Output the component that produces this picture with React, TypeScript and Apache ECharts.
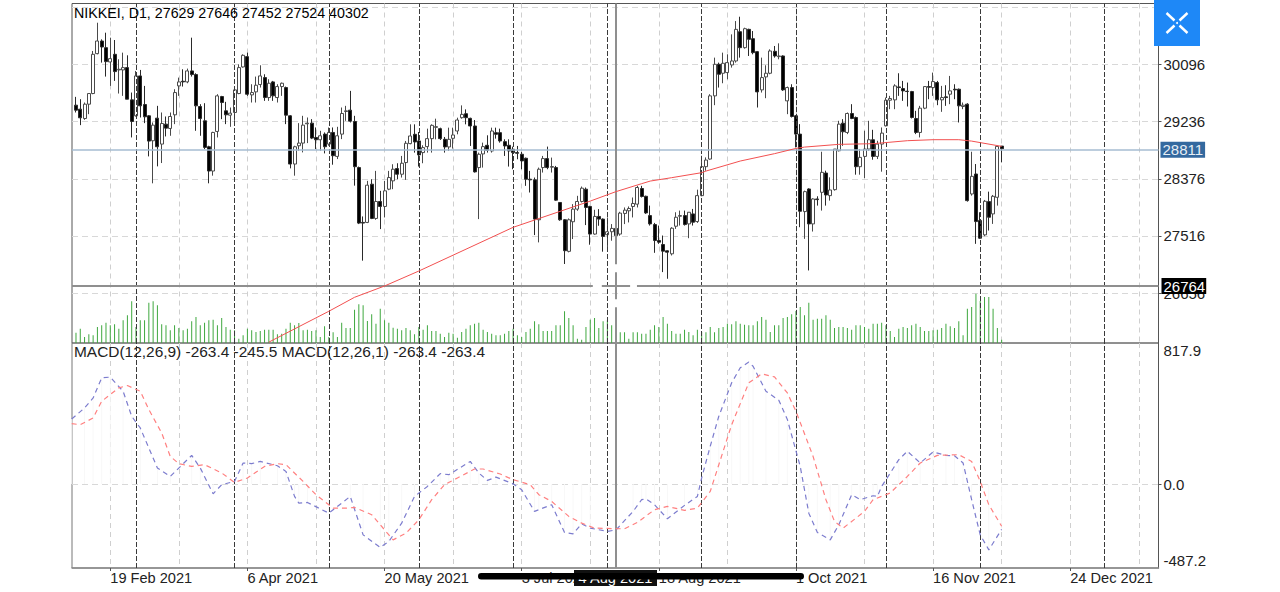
import React, { useEffect, useRef } from "react";
import * as echarts from "echarts";

const titleText = "NIKKEI, D1, 27629 27646 27452 27524 40302";
const macdText = "MACD(12,26,9) -263.4 -245.5 MACD(12,26,1) -263.4 -263.4";

const priceTicks = [26656, 27516, 28376, 29236, 30096, 30956];
const priceLabels = [26656, 27516, 28376, 29236, 30096];
const macdLabels = [-487.2, 0, 817.9];
const macdTicks = [0];
const lastPrice = 28811;
const crossPrice = 26764;
const crossIndex = 126;
const crossDate = "4 Aug 2021";

const gridIndexes = [8, 24, 40, 56, 72, 88, 104, 120, 136, 152, 168, 184, 200, 216, 232, 248];
const dateLabelIndexes = [8, 40, 72, 104, 136, 168, 200, 232];
const dateLabels = ["19 Feb 2021", "6 Apr 2021", "20 May 2021", "3 Jul 2021", "18 Aug 2021", "1 Oct 2021", "16 Nov 2021", "24 Dec 2021"];
const monthIndexes = [14, 37, 59, 80, 102, 124, 146, 168, 189, 211, 240];

// open, close, low, high
const candles = [
[29483,29408,29373,29608],[29423,29293,29183,29573],[29283,29498,29263,29523],[29498,29658,29348,29658],
[29658,30248,29648,30298],[30258,30448,30248,30723],[30448,30358,30123,30473],[30348,30138,29913,30573],[30133,30183,29773,30498],
[30248,29988,29848,30463],[30013,30023,29658,30173],[30013,30048,29623,30273],[30048,29573,29573,30233],[29563,29238,28998,29673],
[29323,29923,29313,29998],[29923,29473,29298,30013],[29493,29308,29213,29773],[29323,28943,28713,29333],[28948,29183,28308,29223],
[29288,28858,28563,29473],[28898,29208,28613,29373],[29198,29138,29013,29313],[29133,29313,29023,29373],[29338,29673,29198,29723],
[29773,29833,29623,29898],[29843,29833,29763,30023],[29833,29998,29813,30033],[29998,29943,29913,30498],[29943,29473,29098,29963],
[29463,29283,29023,29498],[29248,28848,28823,29513],[28858,28493,28308,28873],[28493,29073,28423,29083],[29088,29623,28998,29648],
[29613,29523,29273,29623],[29398,29338,29198,29533],[29333,29363,29158,29448],[29373,29713,29248,29748],[29658,30048,29648,30098],
[30058,30233,30048,30248],[30213,29648,29623,30273],[29638,29673,29523,29798],[29683,29783,29523,29913],[29793,29923,29748,30083],
[29898,29598,29548,29948],[29598,29813,29548,29873],[29833,29623,29548,29848],[29598,29763,29523,29798],[29763,29813,29623,29823],
[29748,29333,29198,29763],[29323,28598,28533,29333],[28598,28858,28423,28873],[28873,28913,28798,29213],[28913,29183,28773,29323],
[29203,29213,28913,29298],[29213,28988,28973,29273],[28998,28963,28823,29148],[28963,29023,28798,29098],[29048,28858,28758,29073],
[28898,29073,28873,29148],[29073,28723,28588,29148],[28713,29023,28673,29158],[29048,29358,28973,29448],[29388,29398,29248,29473],
[29408,29243,29223,29698],[29238,28558,28273,29323],[28545,27710,27695,28560],[27720,27710,27145,27810],[27720,28280,27710,28345],
[28295,27780,27770,28370],[27780,28035,27760,28495],[28035,27960,27620,28195],[27960,28195,27795,28345],[28220,28395,28205,28495],
[28345,28520,28220,28595],[28530,28445,28370,28610],[28445,28610,28395,28720],[28620,28910,28360,28945],[28905,29020,28895,29195],
[29045,28930,28770,29195],[28945,28735,28560,29080],[28770,28845,28610,28880],[28860,28980,28770,29130],[28980,29180,28770,29195],
[29150,29160,28970,29280],[29130,28980,28960,29145],[28970,28855,28770,29005],[28855,28970,28795,29145],[28985,29035,28830,29145],
[29095,29260,29045,29295],[29295,29345,29280,29480],[29355,29295,29195,29420],[29285,29170,28870,29295],[29170,28480,28470,29260],
[28545,28745,27770,28770],[28750,28860,28545,28920],[28880,28805,28770,29030],[28795,29095,28770,29145],[29070,29045,28980,29145],
[29070,28945,28920,29130],[28935,28870,28720,28970],[28880,28795,28560,28970],[28820,28770,28520,28860],[28770,28760,28670,28870],
[28745,28645,28520,28780],[28685,28370,28270,28695],[28370,28360,28170,28495],[28360,27770,27530,28395],[27760,28520,27420,28545],
[28545,28680,28470,28720],[28680,28545,28520,28860],[28550,28560,28470,28695],[28545,28055,28045,28570],[28020,27760,27745,28020],
[27760,27295,27095,27770],[27285,27760,27270,27780],[27730,27920,27470,27995],[27920,28035,27895,28120],[28035,28235,28020,28260],
[28220,27945,27680,28245],[27960,27545,27385,27970],[27545,27810,27535,27910],[27810,27770,27670,27920],[27770,27510,27280,27780],
[27535,27580,27345,27795],[27580,27630,27445,27695],[27629,27524,27452,27646],[27545,27860,27520,27880],[27855,27905,27695,27945],
[27895,27930,27720,27960],[27960,28005,27795,28095],[27995,28245,27945,28270],[28230,28110,28095,28270],[28113,27863,27848,28123],
[27823,27698,27673,27973],[27688,27448,27263,27713],[27448,27423,27398,27673],[27388,27288,26973,27523],[27293,27273,26873,27298],
[27248,27633,27223,27648],[27663,27798,27623,27873],[27813,27823,27673,27898],[27823,27688,27673,27898],[27698,27873,27483,27873],
[27848,27723,27673,27923],[27733,28123,27713,28213],[28123,28558,28113,28723],[28558,28658,28498,28698],[28673,29623,28663,29648],
[29623,30098,29483,30198],[30098,29948,29748,30123],[29963,30113,29813,30273],[29973,30123,29873,30248],[30088,30148,30048,30548],
[30148,30623,30123,30748],[30588,30348,30198,30813],[30348,30633,30333,30648],[30623,30473,30223,30633],[30483,30273,30248,30598],
[30288,29683,29448,30298],[29713,29898,29673,30198],[29908,29963,29588,30083],[29963,30298,29948,30323],[30293,30223,30198,30373],
[30213,30223,30173,30413],[30223,29713,29698,30233],[29548,29748,29348,29763],[29748,29313,29298,29798],[29323,29048,28848,29333],
[29048,27888,27648,29198],[27883,28183,27473,28198],[28223,27698,26998,28233],[27698,28073,27583,28083],[28073,28063,27973,28113],
[28173,28473,27898,28783],[28463,28133,27973,28498],[28123,28208,28048,28398],[28213,28823,28198,28823],[28798,29198,28788,29248],
[29213,29083,28873,29273],[29073,29358,29048,29373],[29358,29283,29273,29498],[29298,28558,28438,29313],[28558,28698,28438,28823],
[28713,28823,28388,29098],[28823,28963,28798,29248],[28963,28713,28663,29113],[28713,28898,28673,28948],[28898,29063,28483,29148],
[29173,29558,29163,29598],[29558,29583,29423,29623],[29563,29773,29423,29798],[29758,29748,29623,29963],[29733,29698,29548,29848],
[29693,29688,29463,29823],[29688,29298,29283,29698],[29283,29073,29048,29398],[29073,29438,28998,29473],[29438,29763,29423,29763],
[29763,29753,29573,29848],[29748,29838,29623,29973],[29823,29563,29483,29848],[29563,29598,29383,29773],[29608,29598,29473,29783],
[29648,29698,29498,29923],[29723,29713,29573,29798],[29723,29473,29223,29733],[29463,29483,29423,29523],[29498,28048,28033,29513],
[28148,28413,28123,28783],[28448,27733,27398,28598],[27748,27483,27473,27873],[27533,28038,27513,28058],[28033,27798,27598,28183],
[27848,28113,27698,28133],[28098,28863,27973,28873],[28868,28828,28623,28868],
];

const volumes = [
23600,32700,13700,19800,17500,36500,40300,46400,40300,42600,32700,51700,63100,95000,36500,51700,51700,92000,95000,85900,
42600,40300,28900,40300,34200,28900,32700,49400,59300,40300,46400,51700,53200,40300,57000,36500,30400,28900,9900,17500,
32700,28900,25100,27400,30400,30400,30400,19800,21300,32700,46400,40300,45600,28900,30400,27400,28900,13700,38000,13700,
24300,13700,46400,34200,34200,76000,88200,85900,50200,65400,44100,78300,51700,46400,35000,32700,28900,34200,28900,19800,
36500,30400,40300,27400,27400,21300,13700,23600,21300,12200,25100,32700,40300,44100,46400,30400,25100,21300,17500,17500,
21300,27400,32700,17500,13700,25100,32700,49400,42600,27400,27400,27400,40300,40300,72200,57000,40300,9900,7600,36500,
53200,57000,34200,49400,51700,40300,40302,24300,24300,9900,24300,24300,21300,21300,30400,40300,36500,59300,44100,27400,
21300,21300,30400,25100,17500,30400,25100,24300,36500,24300,34200,36500,44100,42600,49400,44100,41800,40300,40300,49400,
59300,53200,25100,40300,40300,57000,59300,65400,73000,82100,63100,92000,53200,55500,55500,63100,53200,34200,36500,36500,
34200,30400,40300,40300,36500,32700,44100,44100,46400,40300,27400,13700,32700,36500,34200,40300,44100,36500,27400,27400,
28900,30400,34200,44100,38000,34200,49400,17500,78300,82100,112500,95800,104900,104900,78300,34200,7600,
];

const maIndexes = [45,59,65,72,80,102,107,120,126,132,134,139,146,147,155,163,168,170,178,186,194,200,206,209,216];
const maValues = [25920,26384,26594,26764,26989,27646,27756,28041,28183,28303,28342,28393,28468,28492,28643,28754,28833,28853,28894,28904,28949,28964,28964,28943,28864];

const macdIndexes = [-1,2,4,6,8,11,13,15,19,22,27,29,32,34,37,39,41,43,47,49,51,52,54,59,64,67,71,73,76,79,82,85,87,92,94,96,98,102,104,107,108,111,114,116,118,120,124,126,130,132,133,135,138,142,145,146,148,150,153,155,157,158,161,164,166,169,171,173,176,178,181,183,186,187,188,192,194,197,200,203,205,207,209,211,213,216];
const macdValues = [377,441,499,616,620,538,393,325,93,44,166,93,-57,-4,15,122,118,131,106,73,-72,-111,-107,-169,-72,-295,-368,-333,-227,-72,-14,60,54,131,64,21,40,1,-33,-159,-149,-120,-281,-289,-231,-256,-275,-266,-159,-91,-87,-120,-202,-124,-72,35,219,393,587,674,707,683,538,486,374,102,-169,-281,-324,-237,-62,-91,-68,-72,-14,141,190,122,186,166,164,122,-91,-295,-382,-263];

const signalIndexes = [-1,1,4,6,10,12,15,17,20,22,24,27,30,34,37,40,44,47,49,53,56,60,63,65,69,73,74,77,80,83,86,89,93,95,99,102,106,108,111,115,118,121,128,131,135,138,142,145,148,150,153,157,160,163,166,168,172,175,177,179,184,186,190,194,197,201,206,209,211,213,216];
const signalValues = [350,344,383,480,558,571,538,432,296,160,118,102,112,64,9,35,102,118,112,15,-62,-140,-140,-136,-178,-295,-324,-285,-208,-91,-4,35,87,87,58,25,-4,-62,-101,-188,-227,-256,-260,-223,-149,-130,-153,-140,-43,112,344,587,639,621,528,422,160,-91,-217,-256,-159,-91,-52,44,122,166,170,131,15,-120,-245];

const xMin = -0.93;
const xMax = 252.6;
const priceMin = 25907;
const priceMax = 31012;
const volumeAxisMax = 774000;
const macdMin = -487.2;
const macdMax = 817.9;
const crossGapsX = [120.6, 122.7, 129.3, 130.9];
const crossGapsPrice = [27090, 26970, 26564, 26444];

const FONT = "Liberation Sans";

export default function App() {
  const ref = useRef<HTMLDivElement>(null);
  useEffect(() => {
    document.body.style.margin = "0";
    document.body.style.background = "#fff";
    const chart = echarts.init(ref.current!, undefined, { renderer: "svg" });

    const crossStyle = { color: "#8f8f8f", width: 2, type: "solid" as const };
    const seg = (a: number[], b: number[], lineStyle: any) => [{ coord: a, lineStyle }, { coord: b }];
    const monthLines = monthIndexes.map((x) => ({
      xAxis: x,
      lineStyle: { color: "#3a3a3a", width: 1, type: [5, 2] },
    }));

    const markBase = { silent: true, symbol: "none", animation: false, label: { show: false } };

    const option: any = {
      animation: false,
      backgroundColor: "#fff",
      grid: [
        { left: 72, top: 3.5, width: 1086.5, height: 339.5, show: true, borderColor: "#555", borderWidth: 1, backgroundColor: "transparent" },
        { left: 72, top: 343, width: 1086.5, height: 225, show: true, borderColor: "#777", borderWidth: 1, backgroundColor: "transparent" },
      ],
      xAxis: [
        {
          type: "value", gridIndex: 0, min: xMin, max: xMax, position: "bottom",
          axisLine: { show: false, onZero: false }, axisLabel: { show: false },
          axisTick: { show: false, customValues: gridIndexes },
          splitLine: { show: true, lineStyle: { color: "#cfcfcf", width: 1, type: [5, 4] } },
        },
        {
          type: "value", gridIndex: 1, min: xMin, max: xMax, position: "bottom",
          axisLine: { show: true, onZero: false, lineStyle: { color: "#8a8a8a", width: 1.5 } },
          axisTick: { show: true, length: 3, customValues: dateLabelIndexes, lineStyle: { color: "#555" } },
          axisLabel: {
            show: true, customValues: dateLabelIndexes, align: "left", margin: 2, fontFamily: FONT, fontSize: 14.6, color: "#222",
            formatter: (v: number) => dateLabels[dateLabelIndexes.indexOf(v)] ?? "",
          },
          splitLine: { show: false },
        },
        {
          type: "value", gridIndex: 1, min: xMin, max: xMax, position: "top",
          axisLine: { show: false, onZero: false }, axisLabel: { show: false },
          axisTick: { show: false, customValues: gridIndexes },
          splitLine: { show: true, lineStyle: { color: "#cfcfcf", width: 1, type: [5, 4] } },
        },
      ],
      yAxis: [
        {
          type: "value", gridIndex: 0, position: "right", min: priceMin, max: priceMax, scale: true,
          axisLine: { show: true, onZero: false, lineStyle: { color: "#555" } },
          axisTick: { show: true, length: 3, customValues: priceTicks, lineStyle: { color: "#555" } },
          axisLabel: { show: true, customValues: priceLabels, margin: 5, fontFamily: FONT, fontSize: 15, color: "#222", formatter: (v: number) => String(v) },
          splitLine: { show: true, lineStyle: { color: "#d8d8d8", width: 1, type: [6, 4] } },
        },
        { type: "value", gridIndex: 0, show: false, min: 0, max: volumeAxisMax, axisLine: { onZero: false }, splitLine: { show: false } },
        {
          type: "value", gridIndex: 1, position: "right", min: macdMin, max: macdMax,
          axisLine: { show: true, onZero: false, lineStyle: { color: "#555" } },
          axisTick: { show: true, length: 3, customValues: macdTicks, lineStyle: { color: "#555" } },
          axisLabel: {
            show: true, customValues: macdLabels, margin: 5, fontFamily: FONT, fontSize: 15, color: "#222",
            verticalAlignMinLabel: "bottom", verticalAlignMaxLabel: "top",
            formatter: (v: number) => v.toFixed(1),
          },
          splitLine: { show: true, lineStyle: { color: "#d8d8d8", width: 1, type: [6, 4] } },
        },
      ],
      series: [
        {
          type: "bar", name: "Volume", xAxisIndex: 0, yAxisIndex: 1, barWidth: 1, z: 2,
          itemStyle: { color: "#3fa83f" },
          data: volumes.map((v, i) => [i, v]),
        },
        {
          type: "candlestick", name: "NIKKEI", xAxisIndex: 0, yAxisIndex: 0, barWidth: 3.5, z: 3,
          encode: { x: 0, y: [1, 2, 3, 4] },
          itemStyle: { color: "#fff", color0: "#000", borderColor: "#4a4a4a", borderColor0: "#2a2a2a", borderWidth: 1 },
          data: candles.map((r, k) => [k, r[0], r[1], r[2], r[3]]),
          markLine: {
            ...markBase,
            z: 5,
            data: [
              {
                yAxis: lastPrice,
                lineStyle: { color: "#a6bcd2", width: 1.5, type: "solid" },
                label: { show: true, position: "end", distance: 2, formatter: String(lastPrice), backgroundColor: "#34699f", color: "#e8eef5", fontFamily: FONT, fontSize: 15, padding: [1, 2, 0, 2] },
              },
              [
                { coord: [xMin, crossPrice], lineStyle: crossStyle },
                { coord: [crossGapsX[0], crossPrice] },
              ],
              seg([crossGapsX[1], crossPrice], [crossGapsX[2], crossPrice], crossStyle),
              [
                {
                  coord: [crossGapsX[3], crossPrice], lineStyle: crossStyle,
                  label: { show: true, position: "end", distance: 3, formatter: String(crossPrice), backgroundColor: "#000", color: "#fff", fontFamily: FONT, fontSize: 15, padding: [1, 1, 0, 2] },
                },
                { coord: [xMax, crossPrice] },
              ],
              seg([crossIndex, priceMax], [crossIndex, crossGapsPrice[0]], crossStyle),
              seg([crossIndex, crossGapsPrice[1]], [crossIndex, crossGapsPrice[2]], crossStyle),
              seg([crossIndex, crossGapsPrice[3]], [crossIndex, priceMin], crossStyle),
            ],
          },
        },
        {
          type: "line", name: "MA", xAxisIndex: 0, yAxisIndex: 0, showSymbol: false, z: 6,
          lineStyle: { color: "#f25050", width: 1 },
          data: maIndexes.map((x, i) => [x, maValues[i]]),
          markLine: { ...markBase, z: 4, data: monthLines },
        },
        {
          type: "bar", name: "Histogram", xAxisIndex: 2, yAxisIndex: 2, barWidth: 1, z: 1,
          itemStyle: { color: "#f8f8f8" },
          data: macdIndexes.map((x, i) => [x, macdValues[i]]),
        },
        {
          type: "line", name: "MACD", xAxisIndex: 2, yAxisIndex: 2, showSymbol: false, z: 5,
          lineStyle: { color: "#7c7cce", width: 1.2, type: [5, 4] },
          data: macdIndexes.map((x, i) => [x, macdValues[i]]),
          markLine: {
            ...markBase,
            z: 3,
            data: [
              ...monthLines,
              seg([crossIndex, macdMax], [crossIndex, macdMin], crossStyle),
            ],
          },
        },
        {
          type: "line", name: "Signal", xAxisIndex: 2, yAxisIndex: 2, showSymbol: false, z: 5,
          lineStyle: { color: "#ff8080", width: 1.2, type: [5, 4] },
          data: signalIndexes.map((x, i) => [x, signalValues[i]]),
        },
      ],
      graphic: [
        { type: "text", x: 74, y: 6, z: 20, style: { text: titleText, fontFamily: FONT, fontSize: 14.25, fill: "#000" } },
        { type: "text", x: 74, y: 344, z: 20, style: { text: macdText, fontFamily: FONT, fontSize: 15.45, fill: "#222" } },
        { type: "rect", z: 30, shape: { x: 1154, y: 0, width: 46, height: 46 }, style: { fill: "#1e88f7" } },
        { type: "line", z: 31, shape: { x1: 1166.5, y1: 13, x2: 1174.5, y2: 20.5 }, style: { stroke: "#fff", lineWidth: 2.4 } },
        { type: "line", z: 31, shape: { x1: 1179.5, y1: 25.5, x2: 1187.5, y2: 33 }, style: { stroke: "#fff", lineWidth: 2.4 } },
        { type: "line", z: 31, shape: { x1: 1187.5, y1: 13, x2: 1179.5, y2: 20.5 }, style: { stroke: "#fff", lineWidth: 2.4 } },
        { type: "line", z: 31, shape: { x1: 1174.5, y1: 25.5, x2: 1166.5, y2: 33 }, style: { stroke: "#fff", lineWidth: 2.4 } },
        { type: "circle", z: 31, shape: { cx: 1177, cy: 23, r: 1 }, style: { fill: "#fff" } },
        { type: "rect", z: 40, shape: { x: 574, y: 570, width: 83, height: 16 }, style: { fill: "#111" } },
        { type: "text", z: 41, x: 615.5, y: 578, style: { text: crossDate, fontFamily: FONT, fontSize: 14.6, fill: "#fff", align: "center", verticalAlign: "middle" } },
        { type: "rect", z: 42, shape: { x: 478, y: 573, width: 326, height: 6.5, r: 3.25 }, style: { fill: "#000" } },
      ],
    };
    chart.setOption(option);
    return () => chart.dispose();
  }, []);
  return <div ref={ref} style={{ width: 1280, height: 592, position: "absolute", left: 0, top: 0 }} />;
}
